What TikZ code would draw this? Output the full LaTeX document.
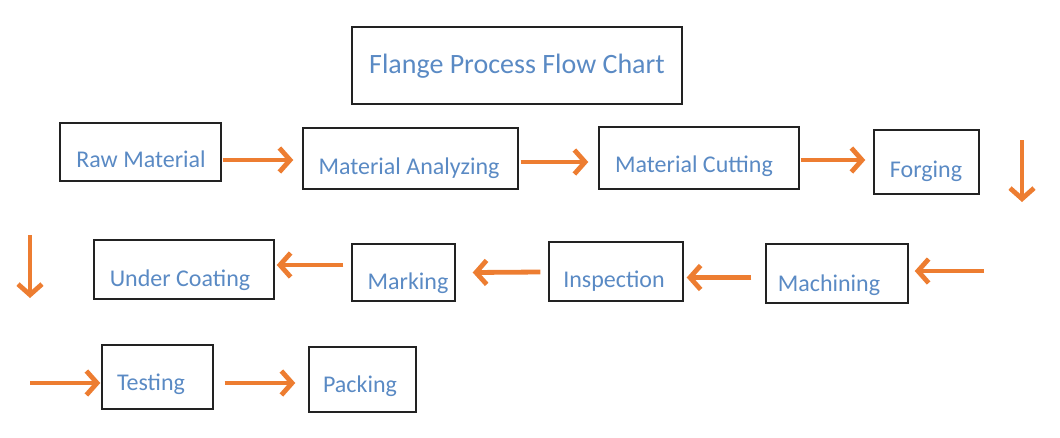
\documentclass[tikz,border=0pt]{standalone}
\usepackage{fontspec}
\setmainfont{Carlito}
\usetikzlibrary{arrows.meta,calc}
\definecolor{txtblue}{HTML}{5A8AC4}
\definecolor{arrorange}{HTML}{ED7D31}
\definecolor{boxline}{HTML}{222222}
\begin{document}
\begin{tikzpicture}[x=0.75pt,y=-0.75pt,
  box/.style={draw=boxline,line width=1.1pt,inner sep=0pt},
  lbl/.style={text=txtblue,font=\fontsize{18}{20}\selectfont,inner sep=0pt,anchor=base},
  ttl/.style={text=txtblue,font=\fontsize{21}{24}\selectfont,inner sep=0pt},
  arr/.style={draw=arrorange,line width=3.6pt,-{Straight Barb[length=8pt,width=18pt]}}]
\useasboundingbox (0,0) rectangle (1060,437);
% boxes
\node[box,minimum width=330*0.75pt,minimum height=77*0.75pt] (title) at (517,65.5) {};
\node[ttl] (titletxt) at (517,66) {Flange Process Flow Chart};
\node[box,minimum width=161*0.75pt,minimum height=58*0.75pt] (raw) at (140.5,152) {};
\node[box,minimum width=215*0.75pt,minimum height=61*0.75pt] (ana) at (410.5,158.5) {};
\node[box,minimum width=200*0.75pt,minimum height=62*0.75pt] (cut) at (699,158) {};
\node[box,minimum width=105*0.75pt,minimum height=64*0.75pt] (forg) at (926.5,162) {};
\node[box,minimum width=180*0.75pt,minimum height=59*0.75pt] (coat) at (184,269.5) {};
\node[box,minimum width=103*0.75pt,minimum height=57*0.75pt] (mark) at (403.5,272.5) {};
\node[box,minimum width=134*0.75pt,minimum height=59*0.75pt] (insp) at (616,271.5) {};
\node[box,minimum width=142*0.75pt,minimum height=59*0.75pt] (mach) at (837,273.5) {};
\node[box,minimum width=111*0.75pt,minimum height=64*0.75pt] (test) at (157.5,377) {};
\node[box,minimum width=107*0.75pt,minimum height=65*0.75pt] (pack) at (362.5,379.5) {};
% labels (baseline positions)
\node[lbl] (rawt) at (141,167) {Raw Material};
\node[lbl] (anat) at (409,174) {Material Analyzing};
\node[lbl] (cutt) at (694,172) {Material Cutting};
\node[lbl] (forgt) at (926,177) {Forging};
\node[lbl] (coatt) at (180,286) {Under Coating};
\node[lbl] (markt) at (408,289) {Marking};
\node[lbl] (inspt) at (614,287) {Inspection};
\node[lbl] (macht) at (829,291) {Machining};
\node[lbl] (testt) at (151,390) {Testing};
\node[lbl] (packt) at (360,392) {Packing};
% free-end coordinates
\coordinate (d1a) at (1022,140);
\coordinate (d1b) at (1022,202);
\coordinate (in2) at (984,271);
\coordinate (d2a) at (30,235);
\coordinate (d2b) at (30,298);
\coordinate (in3) at (30,383);
% arrows
\draw[arr] ($(raw.east)+(1,8)$) -- ($(ana.west)+(-9,1.5)$);
\draw[arr] ($(ana.east)+(2,3.5)$) -- ($(cut.west)+(-10,4)$);
\draw[arr] ($(cut.east)+(1,2)$) -- ($(forg.west)+(-8,-2)$);
\draw[arr] (d1a) -- (d1b);
\draw[arr] (in2) -- ($(mach.east)+(6,-2.5)$);
\draw[arr] ($(mach.west)+(-14,4)$) -- ($(insp.east)+(3,6)$);
\draw[arr] ($(insp.west)+(-8,0.5)$) -- ($(mark.east)+(17,0)$);
\draw[arr] ($(mark.west)+(-8,-7.5)$) -- ($(coat.east)+(2,-4.5)$);
\draw[arr] (d2a) -- (d2b);
\draw[arr] (in3) -- ($(test.west)+(-1,6)$);
\draw[arr] ($(test.east)+(11,6)$) -- ($(pack.west)+(-13,3.5)$);
\end{tikzpicture}
\end{document}
